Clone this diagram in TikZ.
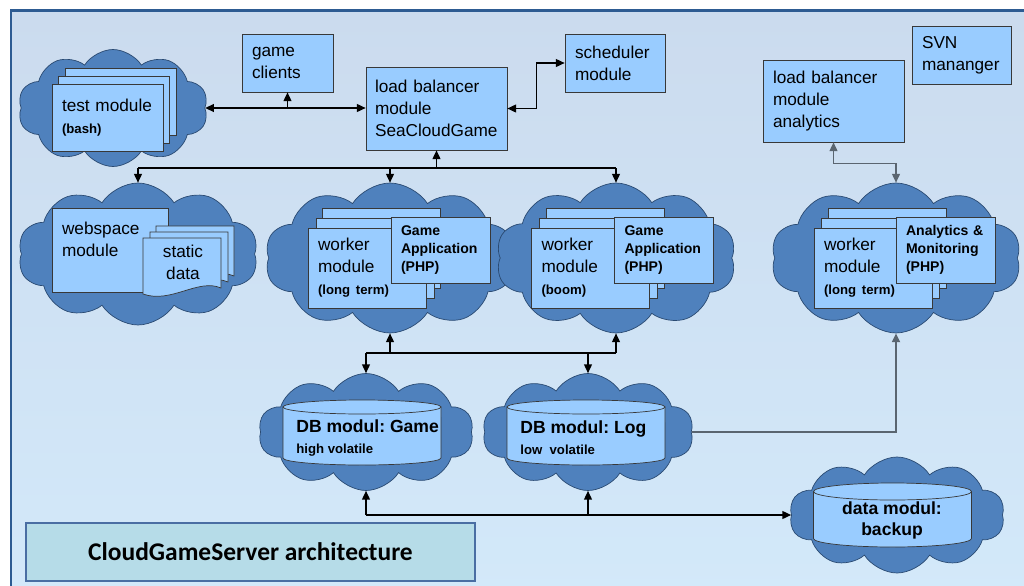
\documentclass[tikz,border=0pt]{standalone}
\usepackage{fontspec}
\setmainfont{Liberation Sans}
\newfontfamily\titlefont{Carlito}
\usepackage{tikz}
\usetikzlibrary{positioning,shapes.symbols,arrows.meta}
\definecolor{cloudblue}{HTML}{4F81BD}
\definecolor{cloudedge}{HTML}{2A4A72}
\definecolor{modfill}{HTML}{99CCFF}
\definecolor{modedge}{HTML}{383838}
\definecolor{bgtop}{HTML}{CBDBEE}
\definecolor{bgbot}{HTML}{D3E9FA}
\definecolor{frameblue}{HTML}{2D5B92}
\definecolor{titlefill}{HTML}{B6DCE8}
\definecolor{titleedge}{HTML}{4A6EA3}
\definecolor{linkgray}{HTML}{5A6570}
\frenchspacing
\newcommand{\smallbold}{\fontsize{7.5}{9.5}\selectfont\bfseries}
\newcommand{\drum}[4]{%
  \filldraw[draw=modedge,fill=modfill,thin] ({#1-79},#2) -- ({#1-79},#3)
    arc[start angle=180,end angle=360,x radius=1.58cm,y radius=#4] -- ({#1+79},#2) -- cycle;
  \filldraw[draw=modedge,fill=modfill,thin] (#1,#2) ellipse[x radius=1.58cm,y radius=#4];
}
\tikzset{
  cloudy/.style={cloud,cloud puffs=10,cloud puff arc=115,cloud ignores aspect,draw=cloudedge,fill=cloudblue,thin,inner sep=0pt},
  module/.style={rectangle,draw=modedge,fill=modfill,thin,align=left,inner xsep=0.2cm,inner ysep=0pt,font=\fontsize{9.8}{12.5}\selectfont},
  worker/.style={module,text width=1.96cm,minimum height=1.6cm},
  app/.style={module,text width=1.58cm,minimum height=1.32cm,font=\fontsize{8}{10.2}\selectfont\bfseries},
  dbtext/.style={anchor=west,inner sep=0pt,align=left,font=\fontsize{10}{12}\selectfont\bfseries},
  sheet/.pic={
    \filldraw[draw=modedge,fill=modfill,thin] (0,0) -- (78,0) -- (78,50) .. controls (55,40) and (28,66) .. (0,56) -- cycle;
  },
  line/.style={draw,line width=0.75pt,-{Triangle[length=5pt,width=4.5pt]}},
  dline/.style={line,{Triangle[length=5pt,width=4.5pt]}-{Triangle[length=5pt,width=4.5pt]}},
  gline/.style={line,draw=linkgray,line width=1.1pt}
}
\begin{document}
\begin{tikzpicture}[x=0.02cm,y=-0.02cm]
  \useasboundingbox (0,0) rectangle (1024,585);
  \fill[white] (0,0) rectangle (1024,585);
  \shade[top color=bgtop,bottom color=bgbot] (11,10) rectangle (1040,600);
  \draw[frameblue,line width=0.06cm] (11,10) rectangle (1040,600);

  % clouds
  \node[cloudy,minimum width=3.8cm,minimum height=2.34cm] (testc) at (113,108) {};
  \node[cloudy,minimum width=4.8cm,minimum height=2.84cm] (webc) at (138,254) {};
  \node[cloudy,minimum width=5cm,minimum height=3cm] (wk1c) at (390,258) {};
  \node[cloudy,minimum width=4.8cm,minimum height=3cm] (wk2c) at (616,258) {};
  \node[cloudy,minimum width=5cm,minimum height=3cm] (anac) at (896,258) {};
  \node[cloudy,minimum width=4.3cm,minimum height=2.34cm] (dbgc) at (366,432) {};
  \node[cloudy,minimum width=4.22cm,minimum height=2.34cm] (dblc) at (588,432) {};
  \node[cloudy,minimum width=4.3cm,minimum height=2.32cm] (bakc) at (897,515) {};

  % top row
  \node[module,text width=1.82cm,minimum height=1.34cm] (test3) at (120.5,101.5) {};
  \node[module,text width=1.82cm,minimum height=1.34cm] (test2) at (113.5,109.5) {};
  \node[module,text width=1.82cm,minimum height=1.34cm] (test) at (107.5,117.5) {test module\\{\smallbold (bash)}};
  \node[module,text width=1.42cm,minimum height=1.16cm] (clients) at (287.5,63) {game\\clients};
  \node[module,inner xsep=0.18cm,text width=2.46cm,minimum height=1.66cm] (lbgame) at (436.5,108.5) {load balancer\\module\\SeaCloudGame};
  \node[module,text width=1.6cm,minimum height=1.16cm] (sched) at (615,63) {scheduler\\module};
  \node[module,text width=2.42cm,minimum height=1.64cm] (lbana) at (833.5,101) {load balancer\\module\\analytics};
  \node[module,text width=1.58cm,minimum height=1.16cm] (svn) at (961.5,55) {SVN\\mananger};

  % webspace
  \node[module,text width=1.92cm,minimum height=1.68cm] (web) at (110,250) {webspace\\module\\~};
  \pic at (156,226) {sheet};
  \pic at (150,232) {sheet};
  \pic at (143,238) {sheet};
  \node[align=center,inner sep=0pt,font=\fontsize{9.8}{12.5}\selectfont] (sdata) at (183,262) {static\\data};

  % workers
  \node[worker] (wk1b) at (381.5,248) {};
  \node[worker] (wk1a) at (375,258.5) {};
  \node[worker] (wk1) at (367,268) {worker\\module\\{\smallbold (long term)}};
  \node[app] (app1) at (440.5,250) {Game\\Application\\(PHP)};
  \node[worker] (wk2b) at (605.5,248) {};
  \node[worker] (wk2a) at (598,258.5) {};
  \node[worker] (wk2) at (590.5,268) {worker\\module\\{\smallbold (boom)}};
  \node[app] (app2) at (664,250) {Game\\Application\\(PHP)};
  \node[worker] (anab) at (887,248) {};
  \node[worker] (anaa) at (880,258.5) {};
  \node[worker] (ana) at (873,268) {worker\\module\\{\smallbold (long term)}};
  \node[app] (app3) at (945.5,250) {Analytics \&\\Monitoring\\(PHP)};

  % databases
  \drum{362}{407}{458}{0.14cm}
  \drum{586}{407}{458}{0.14cm}
  \drum{892.5}{491.5}{538.5}{0.17cm}
  \node[dbtext] (dbg) at (296,438) {DB modul: Game\\{\smallbold high volatile}};
  \node[dbtext] (dbl) at (520,438) {DB modul: Log\\{\smallbold low~~volatile}};
  \node[dbtext,anchor=center,align=center] (bak) at (892,520) {data modul:\\backup};

  \node[draw=titleedge,fill=titlefill,line width=0.04cm,minimum width=8.98cm,minimum height=1.16cm,
        font=\titlefont\bfseries\fontsize{14.5}{17}\selectfont] (title) at (250.5,552) {CloudGameServer architecture};

  % connectors
  \coordinate (bus1) at (437,168);
  \coordinate (bus2) at (437,353);
  \draw[dline] (testc.east) -- (testc.east -| lbgame.west);
  \draw[line] (testc.east -| clients.south) -- (clients.south);
  \draw[dline] (lbgame.east) -- ++(29,0) |- (sched.west);
  \draw[line] (lbgame.south |- bus1) -- (lbgame.south);
  \draw[line,-] (webc.north |- bus1) -- (wk2c.north |- bus1);
  \foreach \c in {webc,wk1c,wk2c}
    \draw[line] (\c.north |- bus1) -- (\c.north);
  \draw[dline,draw=linkgray] (lbana.south) -- ++(0,21) -| (anac.north);

  \draw[line,-] (dbgc.north |- bus2) -- (wk2c.south |- bus2);
  \foreach \c in {wk1c,wk2c}
    \draw[line] (\c.south |- bus2) -- (\c.south);
  \foreach \c in {dbgc,dblc}
    \draw[line] (\c.north |- bus2) -- (\c.north);

  \draw[line] (dbgc.south |- bakc.west) -- (bakc.west);
  \foreach \c in {dbgc,dblc}
    \draw[line] (\c.south |- bakc.west) -- (\c.south);
  \draw[gline] (dblc.east) -| (anac.south);
\end{tikzpicture}
\end{document}
